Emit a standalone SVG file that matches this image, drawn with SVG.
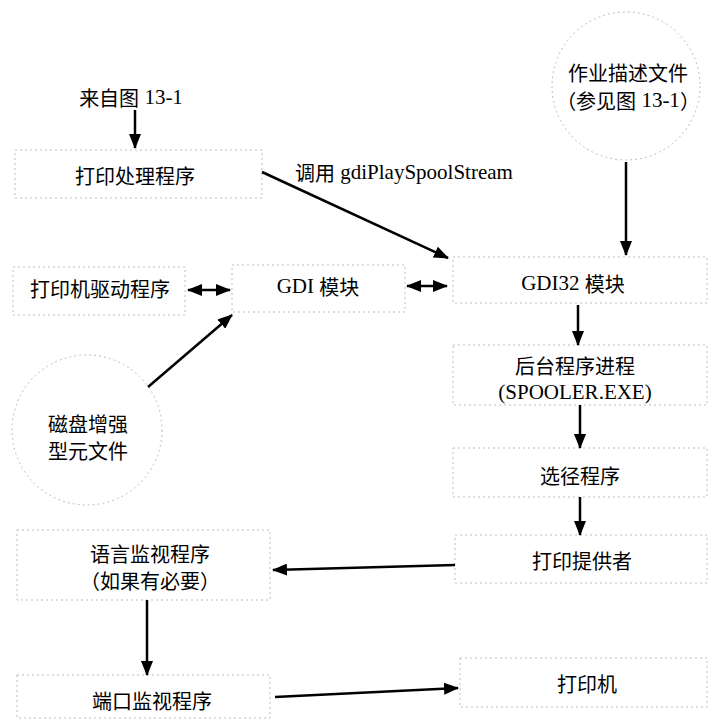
<svg xmlns="http://www.w3.org/2000/svg" width="709" height="720" viewBox="0 0 709 720">
<style>
 .box{fill:none;stroke:#bdbdbd;stroke-width:1;stroke-dasharray:2 3}
 .t{font-family:"Noto Sans CJK SC",sans-serif;font-size:20px;fill:#000;text-anchor:middle;dominant-baseline:central}
 .l{font-family:"Liberation Serif","Times New Roman",serif;font-size:21px}
 .c{stroke:#000;stroke-width:2.5;fill:none}
</style>
<defs>
 <marker id="ah" markerUnits="userSpaceOnUse" markerWidth="15" markerHeight="12" refX="14" refY="6" orient="auto-start-reverse" viewBox="0 0 15 12">
  <path d="M0,0 L15,6 L0,12 z" fill="#000"/>
 </marker>
</defs>
<rect width="709" height="720" fill="#fff"/>

<g id="from13-1"><text class="t" x="131" y="97">来自图<tspan class="l"> 13-1</tspan></text></g>
<g id="proc"><rect class="box" x="15" y="150" width="247" height="48"/><text class="t" x="135" y="175">打印处理程序</text></g>
<g id="call-label"><text class="t" x="295" y="172" style="text-anchor:start">调用<tspan class="l"> gdiPlaySpoolStream</tspan></text></g>
<g id="job"><circle class="box" cx="626" cy="86" r="74"/><text class="t" x="628" y="72">作业描述文件</text><text class="t" x="628" y="100">（参见图<tspan class="l"> 13-1</tspan>）</text></g>
<g id="driver"><rect class="box" x="13" y="267" width="172" height="48"/><text class="t" x="100" y="288">打印机驱动程序</text></g>
<g id="gdi"><rect class="box" x="232" y="265" width="173" height="47"/><text class="t" x="318" y="286"><tspan class="l">GDI </tspan>模块</text></g>
<g id="gdi32"><rect class="box" x="453" y="257" width="254" height="46"/><text class="t" x="573" y="283"><tspan class="l">GDI32 </tspan>模块</text></g>
<g id="spooler"><rect class="box" x="453" y="345" width="254" height="60"/><text class="t" x="575" y="365">后台程序进程</text><text class="t l" x="575" y="392">(SPOOLER.EXE)</text></g>
<g id="router"><rect class="box" x="453" y="448" width="254" height="49"/><text class="t" x="580" y="475">选径程序</text></g>
<g id="provider"><rect class="box" x="455" y="535" width="252" height="48"/><text class="t" x="582" y="560">打印提供者</text></g>
<g id="disk"><circle class="box" cx="87" cy="430" r="75"/><text class="t" x="88" y="423">磁盘增强</text><text class="t" x="88" y="450">型元文件</text></g>
<g id="langmon"><rect class="box" x="17" y="530" width="253" height="70"/><text class="t" x="150" y="553">语言监视程序</text><text class="t" x="150" y="580">（如果有必要）</text></g>
<g id="portmon"><rect class="box" x="17" y="675" width="253" height="43"/><text class="t" x="152" y="700">端口监视程序</text></g>
<g id="printer"><rect class="box" x="460" y="658" width="247" height="49"/><text class="t" x="587" y="683">打印机</text></g>

<g id="connectors">
 <line class="c" x1="135" y1="110" x2="135" y2="148" marker-end="url(#ah)"/>
 <line class="c" x1="262" y1="172" x2="448" y2="258" marker-end="url(#ah)"/>
 <line class="c" x1="626" y1="162" x2="626" y2="255" marker-end="url(#ah)"/>
 <line class="c" x1="188" y1="290" x2="230" y2="290" marker-start="url(#ah)" marker-end="url(#ah)"/>
 <line class="c" x1="407" y1="286" x2="447" y2="286" marker-start="url(#ah)" marker-end="url(#ah)"/>
 <line class="c" x1="148" y1="387" x2="232" y2="315" marker-end="url(#ah)"/>
 <line class="c" x1="578" y1="305" x2="578" y2="345" marker-end="url(#ah)"/>
 <line class="c" x1="580" y1="405" x2="580" y2="448" marker-end="url(#ah)"/>
 <line class="c" x1="580" y1="497" x2="580" y2="535" marker-end="url(#ah)"/>
 <line class="c" x1="455" y1="565" x2="273" y2="570" marker-end="url(#ah)"/>
 <line class="c" x1="147" y1="600" x2="147" y2="675" marker-end="url(#ah)"/>
 <line class="c" x1="275" y1="697" x2="458" y2="688" marker-end="url(#ah)"/>
</g>
</svg>
